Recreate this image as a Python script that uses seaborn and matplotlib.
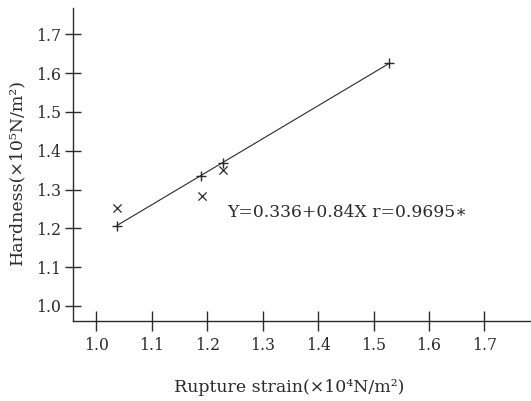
import matplotlib
matplotlib.use("Agg")
import matplotlib.pyplot as plt
import seaborn as sns
import pandas as pd

# Data
plus_x = [1.037, 1.188, 1.228, 1.528]
plus_y = [1.207, 1.335, 1.368, 1.625]
cross_x = [1.037, 1.190, 1.228]
cross_y = [1.253, 1.282, 1.350]
x_ticks = [1.0, 1.1, 1.2, 1.3, 1.4, 1.5, 1.6, 1.7]
y_ticks = [1.0, 1.1, 1.2, 1.3, 1.4, 1.5, 1.6, 1.7]
equation = "Y=0.336+0.84X r=0.9695\u2217"
x_label = "Rupture strain(\u00d710\u2074N/m\u00b2)"
y_label = "Hardness(\u00d710\u2075N/m\u00b2)"

sns.set_theme(style="ticks")
plt.rcParams['font.family'] = ['DejaVu Serif', 'DejaVu Sans']

ink = "#2a2a2a"
fig = plt.figure(figsize=(5.31, 4.01), dpi=100)
ax = fig.add_axes([73/531, 80/401, 1 - 73/531, (321 - 8)/401])

df_plus = pd.DataFrame({"x": plus_x, "y": plus_y})
df_cross = pd.DataFrame({"x": cross_x, "y": cross_y})

sns.lineplot(data=df_plus.iloc[[0, -1]], x="x", y="y", ax=ax, color=ink, linewidth=0.8)
sns.scatterplot(data=df_plus, x="x", y="y", ax=ax, marker="+", s=55, color=ink, linewidth=1.0)
sns.scatterplot(data=df_cross, x="x", y="y", ax=ax, marker="x", s=35, color=ink, linewidth=0.9)

ax.text(1.2356, 1.24, equation, fontsize=12.3, color=ink, va="center", ha="left")

ax.set_xlim(0.958, 1.784)
ax.set_ylim(0.961, 1.768)
ax.set_xticks(x_ticks)
ax.set_yticks(y_ticks)
ax.set_xticklabels([f"{v:.1f}" for v in x_ticks])
ax.set_yticklabels([f"{v:.1f}" for v in y_ticks])

for s in ["top", "right"]:
    ax.spines[s].set_visible(False)
for s in ["left", "bottom"]:
    ax.spines[s].set_color(ink)
    ax.spines[s].set_linewidth(1.0)

ax.tick_params(axis="x", direction="inout", length=15, width=1.0, color=ink,
               labelsize=11.3, labelcolor=ink, pad=4)
ax.tick_params(axis="y", direction="inout", length=11, width=1.0, color=ink,
               labelsize=11.3, labelcolor=ink, pad=3)

ax.set_xlabel(x_label, fontsize=12.5, color=ink)
ax.set_ylabel(y_label, fontsize=12.5, color=ink)
ax.xaxis.set_label_coords((289 - 73) / 458, -(387 - 321) / 313)
ax.yaxis.set_label_coords(-(73 - 17) / 458, (321 - 172) / 313)
ax.xaxis.label.set_va("center")
ax.yaxis.label.set_va("center")

fig.savefig("out.png", dpi=100)
